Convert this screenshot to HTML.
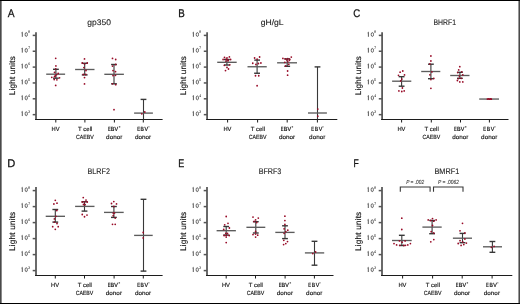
<!DOCTYPE html><html><head><meta charset="utf-8"><style>html,body{margin:0;padding:0;background:#fff;width:520px;height:304px;overflow:hidden}svg{display:block;will-change:transform}text{font-family:"Liberation Sans",sans-serif;text-rendering:geometricPrecision;stroke:#333;stroke-width:0.18px}text.b{stroke-width:0.25px;stroke:#111}text.t{stroke-width:0.08px}text.lu{stroke-width:0.16px;stroke:#111}text.ti{stroke-width:0.12px;stroke:#222}text.xl{stroke-width:0.14px;stroke:#111}text.pv{stroke-width:0.08px}text.xe{stroke-width:0.2px;stroke:#111}</style></head><body>
<svg width="520" height="304" viewBox="0 0 520 304">
<rect x="0" y="0" width="520" height="304" fill="#fff"/>
<text x="7.73" y="16.80" font-size="11.2" fill="#111" textLength="6.84" lengthAdjust="spacingAndGlyphs" class="b">A</text>
<text x="87.39" y="25.10" font-size="8.1" fill="#1e1e1e" textLength="23.59" lengthAdjust="spacingAndGlyphs" class="ti">gp350</text>
<g transform="translate(14.5 75.5) rotate(-90)"><text x="-19.77" y="0.00" font-size="8.2" fill="#111" textLength="39.16" lengthAdjust="spacing" class="lu">Light units</text></g>
<line x1="36" y1="32.35" x2="36" y2="120.1" stroke="#5a5a5a" stroke-width="1.8"/>
<line x1="35.1" y1="119.5" x2="162.6" y2="119.5" stroke="#1c1c1c" stroke-width="1.1"/>
<line x1="32.7" y1="35.4" x2="36" y2="35.4" stroke="#555" stroke-width="1.5"/>
<path d="M21.6 32.8 L22.3 32.2 M22.3 32.2 V36.8" fill="none" stroke="#3c3c3c" stroke-width="0.85"/>
<ellipse cx="26.25" cy="34.5" rx="1.15" ry="1.95" fill="none" stroke="#3a3a3a" stroke-width="0.75"/>
<text x="28.22" y="33.40" font-size="3.9" fill="#333" textLength="1.66" lengthAdjust="spacingAndGlyphs" class="t">8</text>
<line x1="32.7" y1="51.25" x2="36" y2="51.25" stroke="#555" stroke-width="1.5"/>
<path d="M21.6 48.65 L22.3 48.05 M22.3 48.05 V52.65" fill="none" stroke="#3c3c3c" stroke-width="0.85"/>
<ellipse cx="26.25" cy="50.35" rx="1.15" ry="1.95" fill="none" stroke="#3a3a3a" stroke-width="0.75"/>
<text x="28.19" y="49.25" font-size="3.9" fill="#333" textLength="1.71" lengthAdjust="spacingAndGlyphs" class="t">7</text>
<line x1="32.7" y1="67.1" x2="36" y2="67.1" stroke="#555" stroke-width="1.5"/>
<path d="M21.6 64.5 L22.3 63.9 M22.3 63.9 V68.5" fill="none" stroke="#3c3c3c" stroke-width="0.85"/>
<ellipse cx="26.25" cy="66.2" rx="1.15" ry="1.95" fill="none" stroke="#3a3a3a" stroke-width="0.75"/>
<text x="28.20" y="65.10" font-size="3.9" fill="#333" textLength="1.69" lengthAdjust="spacingAndGlyphs" class="t">6</text>
<line x1="32.7" y1="82.95" x2="36" y2="82.95" stroke="#555" stroke-width="1.5"/>
<path d="M21.6 80.35 L22.3 79.75 M22.3 79.75 V84.35" fill="none" stroke="#3c3c3c" stroke-width="0.85"/>
<ellipse cx="26.25" cy="82.05" rx="1.15" ry="1.95" fill="none" stroke="#3a3a3a" stroke-width="0.75"/>
<text x="28.23" y="80.95" font-size="3.9" fill="#333" textLength="1.64" lengthAdjust="spacingAndGlyphs" class="t">5</text>
<line x1="32.7" y1="98.8" x2="36" y2="98.8" stroke="#555" stroke-width="1.5"/>
<path d="M21.6 96.2 L22.3 95.6 M22.3 95.6 V100.2" fill="none" stroke="#3c3c3c" stroke-width="0.85"/>
<ellipse cx="26.25" cy="97.9" rx="1.15" ry="1.95" fill="none" stroke="#3a3a3a" stroke-width="0.75"/>
<text x="28.29" y="96.80" font-size="3.9" fill="#333" textLength="1.54" lengthAdjust="spacingAndGlyphs" class="t">4</text>
<line x1="32.7" y1="114.65" x2="36" y2="114.65" stroke="#555" stroke-width="1.5"/>
<path d="M21.6 112.05 L22.3 111.45 M22.3 111.45 V116.05" fill="none" stroke="#3c3c3c" stroke-width="0.85"/>
<ellipse cx="26.25" cy="113.75" rx="1.15" ry="1.95" fill="none" stroke="#3a3a3a" stroke-width="0.75"/>
<text x="28.24" y="112.65" font-size="3.9" fill="#333" textLength="1.64" lengthAdjust="spacingAndGlyphs" class="t">3</text>
<line x1="55.8" y1="119.5" x2="55.8" y2="122.5" stroke="#1c1c1c" stroke-width="1.0"/>
<text x="51.58" y="130.75" font-size="6.0" fill="#111" textLength="8.00" lengthAdjust="spacingAndGlyphs" class="xl">HV</text>
<line x1="84.9" y1="119.5" x2="84.9" y2="122.5" stroke="#1c1c1c" stroke-width="1.0"/>
<text x="78.12" y="130.75" font-size="6.0" fill="#111" textLength="14.23" lengthAdjust="spacingAndGlyphs" class="xl">T cell</text>
<text x="76.03" y="138.80" font-size="6.0" fill="#111" textLength="17.69" lengthAdjust="spacingAndGlyphs" class="xl">CAEBV</text>
<line x1="114.4" y1="119.5" x2="114.4" y2="122.5" stroke="#1c1c1c" stroke-width="1.0"/>
<text x="107.97" y="130.75" font-size="6.0" fill="#111" textLength="2.71" lengthAdjust="spacingAndGlyphs" class="xe">E</text>
<text x="110.85" y="130.75" font-size="6.0" fill="#111" textLength="3.64" lengthAdjust="spacingAndGlyphs" class="xe">B</text>
<text x="114.62" y="130.75" font-size="6.0" fill="#111" textLength="3.60" lengthAdjust="spacingAndGlyphs" class="xe">V</text>
<text x="106.13" y="138.80" font-size="6.0" fill="#111" textLength="16.17" lengthAdjust="spacingAndGlyphs" class="xl">donor</text>
<line x1="118.85" y1="126.85" x2="120.35" y2="126.85" stroke="#444" stroke-width="0.65"/>
<line x1="119.6" y1="126.1" x2="119.6" y2="127.6" stroke="#444" stroke-width="0.65"/>
<line x1="143.3" y1="119.5" x2="143.3" y2="122.5" stroke="#1c1c1c" stroke-width="1.0"/>
<text x="137.26" y="130.75" font-size="6.0" fill="#111" textLength="2.77" lengthAdjust="spacingAndGlyphs" class="xe">E</text>
<text x="140.58" y="130.75" font-size="6.0" fill="#111" textLength="3.39" lengthAdjust="spacingAndGlyphs" class="xe">B</text>
<text x="144.57" y="130.75" font-size="6.0" fill="#111" textLength="3.55" lengthAdjust="spacingAndGlyphs" class="xe">V</text>
<text x="135.03" y="138.80" font-size="6.0" fill="#111" textLength="16.17" lengthAdjust="spacingAndGlyphs" class="xl">donor</text>
<line x1="148.15" y1="126.85" x2="149.65" y2="126.85" stroke="#444" stroke-width="0.65"/>
<line x1="55.9" y1="69.3" x2="55.9" y2="78.2" stroke="#383838" stroke-width="1.1"/>
<line x1="53" y1="69.3" x2="58.8" y2="69.3" stroke="#383838" stroke-width="1.4"/>
<line x1="53" y1="78.2" x2="58.8" y2="78.2" stroke="#383838" stroke-width="1.4"/>
<line x1="46.2" y1="74.2" x2="65.1" y2="74.2" stroke="#5c5c5c" stroke-width="1.35"/>
<circle cx="55.7" cy="58.3" r="0.88" fill="#980b27"/>
<circle cx="55.9" cy="65.9" r="0.88" fill="#980b27"/>
<circle cx="55.7" cy="68.8" r="0.88" fill="#980b27"/>
<circle cx="54.55" cy="72.4" r="0.88" fill="#980b27"/>
<circle cx="58.2" cy="73.4" r="0.88" fill="#980b27"/>
<circle cx="56.5" cy="74.7" r="0.88" fill="#980b27"/>
<circle cx="54.55" cy="76.5" r="0.88" fill="#980b27"/>
<circle cx="51.8" cy="77.3" r="0.88" fill="#980b27"/>
<circle cx="59.5" cy="77.8" r="0.88" fill="#980b27"/>
<circle cx="54.2" cy="79.5" r="0.88" fill="#980b27"/>
<circle cx="56.9" cy="79.8" r="0.88" fill="#980b27"/>
<circle cx="55.7" cy="85.4" r="0.88" fill="#980b27"/>
<circle cx="55.4" cy="75.9" r="0.88" fill="#980b27"/>
<line x1="84.7" y1="63.25" x2="84.7" y2="74.9" stroke="#383838" stroke-width="1.1"/>
<line x1="81.8" y1="63.25" x2="87.6" y2="63.25" stroke="#383838" stroke-width="1.4"/>
<line x1="81.8" y1="74.9" x2="87.6" y2="74.9" stroke="#383838" stroke-width="1.4"/>
<line x1="75.1" y1="69.5" x2="94.5" y2="69.5" stroke="#5c5c5c" stroke-width="1.35"/>
<circle cx="84.5" cy="58.9" r="0.88" fill="#980b27"/>
<circle cx="82.25" cy="63" r="0.88" fill="#980b27"/>
<circle cx="87.25" cy="63" r="0.88" fill="#980b27"/>
<circle cx="84.5" cy="63.9" r="0.88" fill="#980b27"/>
<circle cx="83.9" cy="67.6" r="0.88" fill="#980b27"/>
<circle cx="86" cy="70.5" r="0.88" fill="#980b27"/>
<circle cx="83.25" cy="74.5" r="0.88" fill="#980b27"/>
<circle cx="85.75" cy="74.5" r="0.88" fill="#980b27"/>
<circle cx="84.5" cy="77.6" r="0.88" fill="#980b27"/>
<circle cx="84.5" cy="83.9" r="0.88" fill="#980b27"/>
<line x1="114" y1="64.5" x2="114" y2="83.8" stroke="#383838" stroke-width="1.1"/>
<line x1="111.1" y1="64.5" x2="116.9" y2="64.5" stroke="#383838" stroke-width="1.4"/>
<line x1="111.1" y1="83.8" x2="116.9" y2="83.8" stroke="#383838" stroke-width="1.4"/>
<line x1="104.3" y1="74.3" x2="123.9" y2="74.3" stroke="#5c5c5c" stroke-width="1.35"/>
<circle cx="112.5" cy="58.4" r="0.88" fill="#980b27"/>
<circle cx="115.7" cy="59.5" r="0.88" fill="#980b27"/>
<circle cx="115.7" cy="64.5" r="0.88" fill="#980b27"/>
<circle cx="112.5" cy="66.1" r="0.88" fill="#980b27"/>
<circle cx="113" cy="70.6" r="0.88" fill="#980b27"/>
<circle cx="115.5" cy="71.7" r="0.88" fill="#980b27"/>
<circle cx="113" cy="75.6" r="0.88" fill="#980b27"/>
<circle cx="115.5" cy="75.3" r="0.88" fill="#980b27"/>
<circle cx="112.5" cy="83.8" r="0.88" fill="#980b27"/>
<circle cx="115.7" cy="84.7" r="0.88" fill="#980b27"/>
<circle cx="114" cy="109.7" r="0.88" fill="#980b27"/>
<line x1="143.5" y1="99.4" x2="143.5" y2="119.5" stroke="#383838" stroke-width="1.1"/>
<line x1="140.6" y1="99.4" x2="146.4" y2="99.4" stroke="#383838" stroke-width="1.4"/>
<line x1="134.1" y1="113.1" x2="152.9" y2="113.1" stroke="#5c5c5c" stroke-width="1.35"/>
<circle cx="144.8" cy="112" r="0.88" fill="#980b27"/>
<circle cx="141.8" cy="113.8" r="0.88" fill="#980b27"/>
<text x="178.35" y="16.80" font-size="11.2" fill="#111" textLength="6.52" lengthAdjust="spacingAndGlyphs" class="b">B</text>
<text x="260.79" y="24.70" font-size="8.1" fill="#1e1e1e" textLength="22.85" lengthAdjust="spacingAndGlyphs" class="ti">gH/gL</text>
<g transform="translate(185.6 75.5) rotate(-90)"><text x="-19.77" y="0.00" font-size="8.2" fill="#111" textLength="39.16" lengthAdjust="spacing" class="lu">Light units</text></g>
<line x1="207.1" y1="32.35" x2="207.1" y2="120.1" stroke="#5a5a5a" stroke-width="1.8"/>
<line x1="206.2" y1="119.5" x2="337.3" y2="119.5" stroke="#1c1c1c" stroke-width="1.1"/>
<line x1="203.8" y1="35.4" x2="207.1" y2="35.4" stroke="#555" stroke-width="1.5"/>
<path d="M192.7 32.8 L193.4 32.2 M193.4 32.2 V36.8" fill="none" stroke="#3c3c3c" stroke-width="0.85"/>
<ellipse cx="197.35" cy="34.5" rx="1.15" ry="1.95" fill="none" stroke="#3a3a3a" stroke-width="0.75"/>
<text x="199.32" y="33.40" font-size="3.9" fill="#333" textLength="1.66" lengthAdjust="spacingAndGlyphs" class="t">8</text>
<line x1="203.8" y1="51.25" x2="207.1" y2="51.25" stroke="#555" stroke-width="1.5"/>
<path d="M192.7 48.65 L193.4 48.05 M193.4 48.05 V52.65" fill="none" stroke="#3c3c3c" stroke-width="0.85"/>
<ellipse cx="197.35" cy="50.35" rx="1.15" ry="1.95" fill="none" stroke="#3a3a3a" stroke-width="0.75"/>
<text x="199.29" y="49.25" font-size="3.9" fill="#333" textLength="1.71" lengthAdjust="spacingAndGlyphs" class="t">7</text>
<line x1="203.8" y1="67.1" x2="207.1" y2="67.1" stroke="#555" stroke-width="1.5"/>
<path d="M192.7 64.5 L193.4 63.9 M193.4 63.9 V68.5" fill="none" stroke="#3c3c3c" stroke-width="0.85"/>
<ellipse cx="197.35" cy="66.2" rx="1.15" ry="1.95" fill="none" stroke="#3a3a3a" stroke-width="0.75"/>
<text x="199.30" y="65.10" font-size="3.9" fill="#333" textLength="1.69" lengthAdjust="spacingAndGlyphs" class="t">6</text>
<line x1="203.8" y1="82.95" x2="207.1" y2="82.95" stroke="#555" stroke-width="1.5"/>
<path d="M192.7 80.35 L193.4 79.75 M193.4 79.75 V84.35" fill="none" stroke="#3c3c3c" stroke-width="0.85"/>
<ellipse cx="197.35" cy="82.05" rx="1.15" ry="1.95" fill="none" stroke="#3a3a3a" stroke-width="0.75"/>
<text x="199.33" y="80.95" font-size="3.9" fill="#333" textLength="1.64" lengthAdjust="spacingAndGlyphs" class="t">5</text>
<line x1="203.8" y1="98.8" x2="207.1" y2="98.8" stroke="#555" stroke-width="1.5"/>
<path d="M192.7 96.2 L193.4 95.6 M193.4 95.6 V100.2" fill="none" stroke="#3c3c3c" stroke-width="0.85"/>
<ellipse cx="197.35" cy="97.9" rx="1.15" ry="1.95" fill="none" stroke="#3a3a3a" stroke-width="0.75"/>
<text x="199.39" y="96.80" font-size="3.9" fill="#333" textLength="1.54" lengthAdjust="spacingAndGlyphs" class="t">4</text>
<line x1="203.8" y1="114.65" x2="207.1" y2="114.65" stroke="#555" stroke-width="1.5"/>
<path d="M192.7 112.05 L193.4 111.45 M193.4 111.45 V116.05" fill="none" stroke="#3c3c3c" stroke-width="0.85"/>
<ellipse cx="197.35" cy="113.75" rx="1.15" ry="1.95" fill="none" stroke="#3a3a3a" stroke-width="0.75"/>
<text x="199.34" y="112.65" font-size="3.9" fill="#333" textLength="1.64" lengthAdjust="spacingAndGlyphs" class="t">3</text>
<line x1="227.6" y1="119.5" x2="227.6" y2="122.5" stroke="#1c1c1c" stroke-width="1.0"/>
<text x="223.38" y="130.75" font-size="6.0" fill="#111" textLength="8.00" lengthAdjust="spacingAndGlyphs" class="xl">HV</text>
<line x1="257.6" y1="119.5" x2="257.6" y2="122.5" stroke="#1c1c1c" stroke-width="1.0"/>
<text x="250.82" y="130.75" font-size="6.0" fill="#111" textLength="14.23" lengthAdjust="spacingAndGlyphs" class="xl">T cell</text>
<text x="248.73" y="138.80" font-size="6.0" fill="#111" textLength="17.69" lengthAdjust="spacingAndGlyphs" class="xl">CAEBV</text>
<line x1="287.2" y1="119.5" x2="287.2" y2="122.5" stroke="#1c1c1c" stroke-width="1.0"/>
<text x="280.77" y="130.75" font-size="6.0" fill="#111" textLength="2.71" lengthAdjust="spacingAndGlyphs" class="xe">E</text>
<text x="283.65" y="130.75" font-size="6.0" fill="#111" textLength="3.64" lengthAdjust="spacingAndGlyphs" class="xe">B</text>
<text x="287.42" y="130.75" font-size="6.0" fill="#111" textLength="3.60" lengthAdjust="spacingAndGlyphs" class="xe">V</text>
<text x="278.93" y="138.80" font-size="6.0" fill="#111" textLength="16.17" lengthAdjust="spacingAndGlyphs" class="xl">donor</text>
<line x1="291.65" y1="126.85" x2="293.15" y2="126.85" stroke="#444" stroke-width="0.65"/>
<line x1="292.4" y1="126.1" x2="292.4" y2="127.6" stroke="#444" stroke-width="0.65"/>
<line x1="317.4" y1="119.5" x2="317.4" y2="122.5" stroke="#1c1c1c" stroke-width="1.0"/>
<text x="311.36" y="130.75" font-size="6.0" fill="#111" textLength="2.77" lengthAdjust="spacingAndGlyphs" class="xe">E</text>
<text x="314.68" y="130.75" font-size="6.0" fill="#111" textLength="3.39" lengthAdjust="spacingAndGlyphs" class="xe">B</text>
<text x="318.67" y="130.75" font-size="6.0" fill="#111" textLength="3.55" lengthAdjust="spacingAndGlyphs" class="xe">V</text>
<text x="309.13" y="138.80" font-size="6.0" fill="#111" textLength="16.17" lengthAdjust="spacingAndGlyphs" class="xl">donor</text>
<line x1="322.25" y1="126.85" x2="323.75" y2="126.85" stroke="#444" stroke-width="0.65"/>
<line x1="226.9" y1="59.5" x2="226.9" y2="65" stroke="#383838" stroke-width="1.1"/>
<line x1="224" y1="59.5" x2="229.8" y2="59.5" stroke="#383838" stroke-width="1.4"/>
<line x1="224" y1="65" x2="229.8" y2="65" stroke="#383838" stroke-width="1.4"/>
<line x1="217.2" y1="62.3" x2="236.7" y2="62.3" stroke="#5c5c5c" stroke-width="1.35"/>
<circle cx="224.5" cy="57.4" r="0.88" fill="#980b27"/>
<circle cx="227" cy="57.9" r="0.88" fill="#980b27"/>
<circle cx="229.4" cy="56.9" r="0.88" fill="#980b27"/>
<circle cx="223.1" cy="59.5" r="0.88" fill="#980b27"/>
<circle cx="226.3" cy="59.1" r="0.88" fill="#980b27"/>
<circle cx="227.8" cy="59.9" r="0.88" fill="#980b27"/>
<circle cx="230.6" cy="59.5" r="0.88" fill="#980b27"/>
<circle cx="225.9" cy="61.1" r="0.88" fill="#980b27"/>
<circle cx="228.2" cy="60.7" r="0.88" fill="#980b27"/>
<circle cx="224.3" cy="65.3" r="0.88" fill="#980b27"/>
<circle cx="229.8" cy="64.8" r="0.88" fill="#980b27"/>
<circle cx="227" cy="67.4" r="0.88" fill="#980b27"/>
<circle cx="228.5" cy="69" r="0.88" fill="#980b27"/>
<circle cx="225.5" cy="70.6" r="0.88" fill="#980b27"/>
<line x1="257.1" y1="60.1" x2="257.1" y2="73.25" stroke="#383838" stroke-width="1.1"/>
<line x1="254.2" y1="60.1" x2="260" y2="60.1" stroke="#383838" stroke-width="1.4"/>
<line x1="254.2" y1="73.25" x2="260" y2="73.25" stroke="#383838" stroke-width="1.4"/>
<line x1="247.5" y1="66.75" x2="266.75" y2="66.75" stroke="#5c5c5c" stroke-width="1.35"/>
<circle cx="254.6" cy="58" r="0.88" fill="#980b27"/>
<circle cx="259.6" cy="57" r="0.88" fill="#980b27"/>
<circle cx="257.1" cy="59.25" r="0.88" fill="#980b27"/>
<circle cx="252.75" cy="63.25" r="0.88" fill="#980b27"/>
<circle cx="255.9" cy="64.5" r="0.88" fill="#980b27"/>
<circle cx="258.4" cy="63.5" r="0.88" fill="#980b27"/>
<circle cx="260.9" cy="63" r="0.88" fill="#980b27"/>
<circle cx="255.5" cy="75.75" r="0.88" fill="#980b27"/>
<circle cx="258.75" cy="75.75" r="0.88" fill="#980b27"/>
<circle cx="257.1" cy="85.75" r="0.88" fill="#980b27"/>
<line x1="287.2" y1="58.9" x2="287.2" y2="66.3" stroke="#383838" stroke-width="1.1"/>
<line x1="284.3" y1="58.9" x2="290.1" y2="58.9" stroke="#383838" stroke-width="1.4"/>
<line x1="284.3" y1="66.3" x2="290.1" y2="66.3" stroke="#383838" stroke-width="1.4"/>
<line x1="277.1" y1="62.8" x2="297" y2="62.8" stroke="#5c5c5c" stroke-width="1.35"/>
<circle cx="282.9" cy="58.4" r="0.88" fill="#980b27"/>
<circle cx="285.3" cy="58.9" r="0.88" fill="#980b27"/>
<circle cx="287.8" cy="58.7" r="0.88" fill="#980b27"/>
<circle cx="291.3" cy="57.1" r="0.88" fill="#980b27"/>
<circle cx="289.8" cy="59.4" r="0.88" fill="#980b27"/>
<circle cx="286.8" cy="59.9" r="0.88" fill="#980b27"/>
<circle cx="289.3" cy="60.4" r="0.88" fill="#980b27"/>
<circle cx="284.8" cy="62.3" r="0.88" fill="#980b27"/>
<circle cx="287.8" cy="61.8" r="0.88" fill="#980b27"/>
<circle cx="288.8" cy="64.3" r="0.88" fill="#980b27"/>
<circle cx="285.8" cy="66" r="0.88" fill="#980b27"/>
<circle cx="287.6" cy="71" r="0.88" fill="#980b27"/>
<circle cx="287.6" cy="75.2" r="0.88" fill="#980b27"/>
<line x1="317.5" y1="66.9" x2="317.5" y2="119.5" stroke="#383838" stroke-width="1.1"/>
<line x1="314.6" y1="66.9" x2="320.4" y2="66.9" stroke="#383838" stroke-width="1.4"/>
<line x1="308" y1="113" x2="326.9" y2="113" stroke="#5c5c5c" stroke-width="1.35"/>
<circle cx="317.8" cy="109.1" r="0.88" fill="#980b27"/>
<circle cx="317.8" cy="116.2" r="0.88" fill="#980b27"/>
<text x="353.36" y="16.80" font-size="11.2" fill="#111" textLength="6.96" lengthAdjust="spacingAndGlyphs" class="b">C</text>
<text x="433.49" y="24.60" font-size="8.1" fill="#1e1e1e" textLength="22.50" lengthAdjust="spacingAndGlyphs" class="ti">BHRF1</text>
<g transform="translate(360.6 75.5) rotate(-90)"><text x="-19.77" y="0.00" font-size="8.2" fill="#111" textLength="39.16" lengthAdjust="spacing" class="lu">Light units</text></g>
<line x1="382.1" y1="32.35" x2="382.1" y2="120.1" stroke="#5a5a5a" stroke-width="1.8"/>
<line x1="381.2" y1="119.5" x2="508.5" y2="119.5" stroke="#1c1c1c" stroke-width="1.1"/>
<line x1="378.8" y1="35.4" x2="382.1" y2="35.4" stroke="#555" stroke-width="1.5"/>
<path d="M367.7 32.8 L368.4 32.2 M368.4 32.2 V36.8" fill="none" stroke="#3c3c3c" stroke-width="0.85"/>
<ellipse cx="372.35" cy="34.5" rx="1.15" ry="1.95" fill="none" stroke="#3a3a3a" stroke-width="0.75"/>
<text x="374.32" y="33.40" font-size="3.9" fill="#333" textLength="1.66" lengthAdjust="spacingAndGlyphs" class="t">8</text>
<line x1="378.8" y1="51.25" x2="382.1" y2="51.25" stroke="#555" stroke-width="1.5"/>
<path d="M367.7 48.65 L368.4 48.05 M368.4 48.05 V52.65" fill="none" stroke="#3c3c3c" stroke-width="0.85"/>
<ellipse cx="372.35" cy="50.35" rx="1.15" ry="1.95" fill="none" stroke="#3a3a3a" stroke-width="0.75"/>
<text x="374.29" y="49.25" font-size="3.9" fill="#333" textLength="1.71" lengthAdjust="spacingAndGlyphs" class="t">7</text>
<line x1="378.8" y1="67.1" x2="382.1" y2="67.1" stroke="#555" stroke-width="1.5"/>
<path d="M367.7 64.5 L368.4 63.9 M368.4 63.9 V68.5" fill="none" stroke="#3c3c3c" stroke-width="0.85"/>
<ellipse cx="372.35" cy="66.2" rx="1.15" ry="1.95" fill="none" stroke="#3a3a3a" stroke-width="0.75"/>
<text x="374.30" y="65.10" font-size="3.9" fill="#333" textLength="1.69" lengthAdjust="spacingAndGlyphs" class="t">6</text>
<line x1="378.8" y1="82.95" x2="382.1" y2="82.95" stroke="#555" stroke-width="1.5"/>
<path d="M367.7 80.35 L368.4 79.75 M368.4 79.75 V84.35" fill="none" stroke="#3c3c3c" stroke-width="0.85"/>
<ellipse cx="372.35" cy="82.05" rx="1.15" ry="1.95" fill="none" stroke="#3a3a3a" stroke-width="0.75"/>
<text x="374.33" y="80.95" font-size="3.9" fill="#333" textLength="1.64" lengthAdjust="spacingAndGlyphs" class="t">5</text>
<line x1="378.8" y1="98.8" x2="382.1" y2="98.8" stroke="#555" stroke-width="1.5"/>
<path d="M367.7 96.2 L368.4 95.6 M368.4 95.6 V100.2" fill="none" stroke="#3c3c3c" stroke-width="0.85"/>
<ellipse cx="372.35" cy="97.9" rx="1.15" ry="1.95" fill="none" stroke="#3a3a3a" stroke-width="0.75"/>
<text x="374.39" y="96.80" font-size="3.9" fill="#333" textLength="1.54" lengthAdjust="spacingAndGlyphs" class="t">4</text>
<line x1="378.8" y1="114.65" x2="382.1" y2="114.65" stroke="#555" stroke-width="1.5"/>
<path d="M367.7 112.05 L368.4 111.45 M368.4 111.45 V116.05" fill="none" stroke="#3c3c3c" stroke-width="0.85"/>
<ellipse cx="372.35" cy="113.75" rx="1.15" ry="1.95" fill="none" stroke="#3a3a3a" stroke-width="0.75"/>
<text x="374.34" y="112.65" font-size="3.9" fill="#333" textLength="1.64" lengthAdjust="spacingAndGlyphs" class="t">3</text>
<line x1="401.6" y1="119.5" x2="401.6" y2="122.5" stroke="#1c1c1c" stroke-width="1.0"/>
<text x="397.38" y="130.75" font-size="6.0" fill="#111" textLength="8.00" lengthAdjust="spacingAndGlyphs" class="xl">HV</text>
<line x1="431.3" y1="119.5" x2="431.3" y2="122.5" stroke="#1c1c1c" stroke-width="1.0"/>
<text x="424.52" y="130.75" font-size="6.0" fill="#111" textLength="14.23" lengthAdjust="spacingAndGlyphs" class="xl">T cell</text>
<text x="422.43" y="138.80" font-size="6.0" fill="#111" textLength="17.69" lengthAdjust="spacingAndGlyphs" class="xl">CAEBV</text>
<line x1="460.5" y1="119.5" x2="460.5" y2="122.5" stroke="#1c1c1c" stroke-width="1.0"/>
<text x="454.07" y="130.75" font-size="6.0" fill="#111" textLength="2.71" lengthAdjust="spacingAndGlyphs" class="xe">E</text>
<text x="456.95" y="130.75" font-size="6.0" fill="#111" textLength="3.64" lengthAdjust="spacingAndGlyphs" class="xe">B</text>
<text x="460.72" y="130.75" font-size="6.0" fill="#111" textLength="3.60" lengthAdjust="spacingAndGlyphs" class="xe">V</text>
<text x="452.23" y="138.80" font-size="6.0" fill="#111" textLength="16.17" lengthAdjust="spacingAndGlyphs" class="xl">donor</text>
<line x1="464.95" y1="126.85" x2="466.45" y2="126.85" stroke="#444" stroke-width="0.65"/>
<line x1="465.7" y1="126.1" x2="465.7" y2="127.6" stroke="#444" stroke-width="0.65"/>
<line x1="489.4" y1="119.5" x2="489.4" y2="122.5" stroke="#1c1c1c" stroke-width="1.0"/>
<text x="483.36" y="130.75" font-size="6.0" fill="#111" textLength="2.77" lengthAdjust="spacingAndGlyphs" class="xe">E</text>
<text x="486.68" y="130.75" font-size="6.0" fill="#111" textLength="3.39" lengthAdjust="spacingAndGlyphs" class="xe">B</text>
<text x="490.67" y="130.75" font-size="6.0" fill="#111" textLength="3.55" lengthAdjust="spacingAndGlyphs" class="xe">V</text>
<text x="481.13" y="138.80" font-size="6.0" fill="#111" textLength="16.17" lengthAdjust="spacingAndGlyphs" class="xl">donor</text>
<line x1="494.25" y1="126.85" x2="495.75" y2="126.85" stroke="#444" stroke-width="0.65"/>
<line x1="401.6" y1="76.7" x2="401.6" y2="86.2" stroke="#383838" stroke-width="1.1"/>
<line x1="398.7" y1="76.7" x2="404.5" y2="76.7" stroke="#383838" stroke-width="1.4"/>
<line x1="398.7" y1="86.2" x2="404.5" y2="86.2" stroke="#383838" stroke-width="1.4"/>
<line x1="392.1" y1="81.2" x2="411.3" y2="81.2" stroke="#5c5c5c" stroke-width="1.35"/>
<circle cx="400.1" cy="72.2" r="0.88" fill="#980b27"/>
<circle cx="402.8" cy="71" r="0.88" fill="#980b27"/>
<circle cx="398.5" cy="75.3" r="0.88" fill="#980b27"/>
<circle cx="404.5" cy="74.9" r="0.88" fill="#980b27"/>
<circle cx="401.8" cy="79.1" r="0.88" fill="#980b27"/>
<circle cx="400.7" cy="80.9" r="0.88" fill="#980b27"/>
<circle cx="402.4" cy="88" r="0.88" fill="#980b27"/>
<circle cx="398.9" cy="90.9" r="0.88" fill="#980b27"/>
<circle cx="401.8" cy="91.5" r="0.88" fill="#980b27"/>
<circle cx="404.2" cy="90.9" r="0.88" fill="#980b27"/>
<line x1="430.9" y1="64.2" x2="430.9" y2="78.7" stroke="#383838" stroke-width="1.1"/>
<line x1="428" y1="64.2" x2="433.8" y2="64.2" stroke="#383838" stroke-width="1.4"/>
<line x1="428" y1="78.7" x2="433.8" y2="78.7" stroke="#383838" stroke-width="1.4"/>
<line x1="421.2" y1="71.5" x2="440.3" y2="71.5" stroke="#5c5c5c" stroke-width="1.35"/>
<circle cx="430.9" cy="56" r="0.88" fill="#980b27"/>
<circle cx="430.9" cy="61" r="0.88" fill="#980b27"/>
<circle cx="429.9" cy="64" r="0.88" fill="#980b27"/>
<circle cx="431.9" cy="71.9" r="0.88" fill="#980b27"/>
<circle cx="429.9" cy="74.8" r="0.88" fill="#980b27"/>
<circle cx="430.9" cy="79.6" r="0.88" fill="#980b27"/>
<circle cx="433.8" cy="78.4" r="0.88" fill="#980b27"/>
<circle cx="430.9" cy="88.3" r="0.88" fill="#980b27"/>
<line x1="459.9" y1="72.3" x2="459.9" y2="78.3" stroke="#383838" stroke-width="1.1"/>
<line x1="457" y1="72.3" x2="462.8" y2="72.3" stroke="#383838" stroke-width="1.4"/>
<line x1="457" y1="78.3" x2="462.8" y2="78.3" stroke="#383838" stroke-width="1.4"/>
<line x1="450.2" y1="75.5" x2="469.5" y2="75.5" stroke="#5c5c5c" stroke-width="1.35"/>
<circle cx="459.8" cy="66.7" r="0.88" fill="#980b27"/>
<circle cx="458.7" cy="69.9" r="0.88" fill="#980b27"/>
<circle cx="457.7" cy="72.6" r="0.88" fill="#980b27"/>
<circle cx="461.8" cy="71.8" r="0.88" fill="#980b27"/>
<circle cx="462.8" cy="74.8" r="0.88" fill="#980b27"/>
<circle cx="459.4" cy="76.1" r="0.88" fill="#980b27"/>
<circle cx="458.4" cy="78.6" r="0.88" fill="#980b27"/>
<circle cx="461.3" cy="78.3" r="0.88" fill="#980b27"/>
<circle cx="457.4" cy="80.5" r="0.88" fill="#980b27"/>
<circle cx="459.8" cy="81.9" r="0.88" fill="#980b27"/>
<circle cx="462.8" cy="81.9" r="0.88" fill="#980b27"/>
<line x1="479.2" y1="99.05" x2="499" y2="99.05" stroke="#5c5c5c" stroke-width="1.35"/>
<circle cx="487.4" cy="99.1" r="0.88" fill="#980b27"/>
<circle cx="488.5" cy="98.9" r="0.88" fill="#980b27"/>
<circle cx="489.6" cy="99.2" r="0.88" fill="#980b27"/>
<circle cx="490.7" cy="98.9" r="0.88" fill="#980b27"/>
<circle cx="491.3" cy="99.2" r="0.88" fill="#980b27"/>
<text x="7.24" y="166.70" font-size="11.2" fill="#111" textLength="8.05" lengthAdjust="spacingAndGlyphs" class="b">D</text>
<text x="87.56" y="173.80" font-size="8.1" fill="#1e1e1e" textLength="22.35" lengthAdjust="spacingAndGlyphs" class="ti">BLRF2</text>
<g transform="translate(14.5 231.2) rotate(-90)"><text x="-19.77" y="0.00" font-size="8.2" fill="#111" textLength="39.16" lengthAdjust="spacing" class="lu">Light units</text></g>
<line x1="36" y1="187" x2="36" y2="276.1" stroke="#5a5a5a" stroke-width="1.8"/>
<line x1="35.1" y1="275.5" x2="162.6" y2="275.5" stroke="#1c1c1c" stroke-width="1.1"/>
<line x1="32.7" y1="190.6" x2="36" y2="190.6" stroke="#555" stroke-width="1.5"/>
<path d="M21.6 188 L22.3 187.4 M22.3 187.4 V192" fill="none" stroke="#3c3c3c" stroke-width="0.85"/>
<ellipse cx="26.25" cy="189.7" rx="1.15" ry="1.95" fill="none" stroke="#3a3a3a" stroke-width="0.75"/>
<text x="28.22" y="188.60" font-size="3.9" fill="#333" textLength="1.66" lengthAdjust="spacingAndGlyphs" class="t">8</text>
<line x1="32.7" y1="206.6" x2="36" y2="206.6" stroke="#555" stroke-width="1.5"/>
<path d="M21.6 204 L22.3 203.4 M22.3 203.4 V208" fill="none" stroke="#3c3c3c" stroke-width="0.85"/>
<ellipse cx="26.25" cy="205.7" rx="1.15" ry="1.95" fill="none" stroke="#3a3a3a" stroke-width="0.75"/>
<text x="28.19" y="204.60" font-size="3.9" fill="#333" textLength="1.71" lengthAdjust="spacingAndGlyphs" class="t">7</text>
<line x1="32.7" y1="222.6" x2="36" y2="222.6" stroke="#555" stroke-width="1.5"/>
<path d="M21.6 220 L22.3 219.4 M22.3 219.4 V224" fill="none" stroke="#3c3c3c" stroke-width="0.85"/>
<ellipse cx="26.25" cy="221.7" rx="1.15" ry="1.95" fill="none" stroke="#3a3a3a" stroke-width="0.75"/>
<text x="28.20" y="220.60" font-size="3.9" fill="#333" textLength="1.69" lengthAdjust="spacingAndGlyphs" class="t">6</text>
<line x1="32.7" y1="238.6" x2="36" y2="238.6" stroke="#555" stroke-width="1.5"/>
<path d="M21.6 236 L22.3 235.4 M22.3 235.4 V240" fill="none" stroke="#3c3c3c" stroke-width="0.85"/>
<ellipse cx="26.25" cy="237.7" rx="1.15" ry="1.95" fill="none" stroke="#3a3a3a" stroke-width="0.75"/>
<text x="28.23" y="236.60" font-size="3.9" fill="#333" textLength="1.64" lengthAdjust="spacingAndGlyphs" class="t">5</text>
<line x1="32.7" y1="254.6" x2="36" y2="254.6" stroke="#555" stroke-width="1.5"/>
<path d="M21.6 252 L22.3 251.4 M22.3 251.4 V256" fill="none" stroke="#3c3c3c" stroke-width="0.85"/>
<ellipse cx="26.25" cy="253.7" rx="1.15" ry="1.95" fill="none" stroke="#3a3a3a" stroke-width="0.75"/>
<text x="28.29" y="252.60" font-size="3.9" fill="#333" textLength="1.54" lengthAdjust="spacingAndGlyphs" class="t">4</text>
<line x1="32.7" y1="270.6" x2="36" y2="270.6" stroke="#555" stroke-width="1.5"/>
<path d="M21.6 268 L22.3 267.4 M22.3 267.4 V272" fill="none" stroke="#3c3c3c" stroke-width="0.85"/>
<ellipse cx="26.25" cy="269.7" rx="1.15" ry="1.95" fill="none" stroke="#3a3a3a" stroke-width="0.75"/>
<text x="28.24" y="268.60" font-size="3.9" fill="#333" textLength="1.64" lengthAdjust="spacingAndGlyphs" class="t">3</text>
<line x1="55.3" y1="275.5" x2="55.3" y2="278.5" stroke="#1c1c1c" stroke-width="1.0"/>
<text x="51.08" y="286.75" font-size="6.0" fill="#111" textLength="8.00" lengthAdjust="spacingAndGlyphs" class="xl">HV</text>
<line x1="84.5" y1="275.5" x2="84.5" y2="278.5" stroke="#1c1c1c" stroke-width="1.0"/>
<text x="77.72" y="286.75" font-size="6.0" fill="#111" textLength="14.23" lengthAdjust="spacingAndGlyphs" class="xl">T cell</text>
<text x="75.63" y="294.80" font-size="6.0" fill="#111" textLength="17.69" lengthAdjust="spacingAndGlyphs" class="xl">CAEBV</text>
<line x1="114.1" y1="275.5" x2="114.1" y2="278.5" stroke="#1c1c1c" stroke-width="1.0"/>
<text x="107.67" y="286.75" font-size="6.0" fill="#111" textLength="2.71" lengthAdjust="spacingAndGlyphs" class="xe">E</text>
<text x="110.55" y="286.75" font-size="6.0" fill="#111" textLength="3.64" lengthAdjust="spacingAndGlyphs" class="xe">B</text>
<text x="114.32" y="286.75" font-size="6.0" fill="#111" textLength="3.60" lengthAdjust="spacingAndGlyphs" class="xe">V</text>
<text x="105.83" y="294.80" font-size="6.0" fill="#111" textLength="16.17" lengthAdjust="spacingAndGlyphs" class="xl">donor</text>
<line x1="118.55" y1="282.85" x2="120.05" y2="282.85" stroke="#444" stroke-width="0.65"/>
<line x1="119.3" y1="282.1" x2="119.3" y2="283.6" stroke="#444" stroke-width="0.65"/>
<line x1="143.3" y1="275.5" x2="143.3" y2="278.5" stroke="#1c1c1c" stroke-width="1.0"/>
<text x="137.26" y="286.75" font-size="6.0" fill="#111" textLength="2.77" lengthAdjust="spacingAndGlyphs" class="xe">E</text>
<text x="140.58" y="286.75" font-size="6.0" fill="#111" textLength="3.39" lengthAdjust="spacingAndGlyphs" class="xe">B</text>
<text x="144.57" y="286.75" font-size="6.0" fill="#111" textLength="3.55" lengthAdjust="spacingAndGlyphs" class="xe">V</text>
<text x="135.03" y="294.80" font-size="6.0" fill="#111" textLength="16.17" lengthAdjust="spacingAndGlyphs" class="xl">donor</text>
<line x1="148.15" y1="282.85" x2="149.65" y2="282.85" stroke="#444" stroke-width="0.65"/>
<line x1="55.3" y1="209.5" x2="55.3" y2="222.1" stroke="#383838" stroke-width="1.1"/>
<line x1="52.4" y1="209.5" x2="58.2" y2="209.5" stroke="#383838" stroke-width="1.4"/>
<line x1="52.4" y1="222.1" x2="58.2" y2="222.1" stroke="#383838" stroke-width="1.4"/>
<line x1="45.7" y1="216.3" x2="65" y2="216.3" stroke="#5c5c5c" stroke-width="1.35"/>
<circle cx="55.3" cy="200.3" r="0.88" fill="#980b27"/>
<circle cx="53.9" cy="204" r="0.88" fill="#980b27"/>
<circle cx="57" cy="203.2" r="0.88" fill="#980b27"/>
<circle cx="56.8" cy="210.5" r="0.88" fill="#980b27"/>
<circle cx="55.9" cy="216.3" r="0.88" fill="#980b27"/>
<circle cx="54.4" cy="218.9" r="0.88" fill="#980b27"/>
<circle cx="54.4" cy="222.1" r="0.88" fill="#980b27"/>
<circle cx="57" cy="223.5" r="0.88" fill="#980b27"/>
<circle cx="52.7" cy="226.7" r="0.88" fill="#980b27"/>
<circle cx="58.2" cy="226.7" r="0.88" fill="#980b27"/>
<circle cx="55.3" cy="229.3" r="0.88" fill="#980b27"/>
<line x1="84.5" y1="201.75" x2="84.5" y2="211.1" stroke="#383838" stroke-width="1.1"/>
<line x1="81.6" y1="201.75" x2="87.4" y2="201.75" stroke="#383838" stroke-width="1.4"/>
<line x1="81.6" y1="211.1" x2="87.4" y2="211.1" stroke="#383838" stroke-width="1.4"/>
<line x1="75.1" y1="206.4" x2="94.5" y2="206.4" stroke="#5c5c5c" stroke-width="1.35"/>
<circle cx="83.25" cy="197.6" r="0.88" fill="#980b27"/>
<circle cx="86" cy="200.1" r="0.88" fill="#980b27"/>
<circle cx="82.25" cy="202" r="0.88" fill="#980b27"/>
<circle cx="84.5" cy="202" r="0.88" fill="#980b27"/>
<circle cx="87.25" cy="202" r="0.88" fill="#980b27"/>
<circle cx="83.5" cy="204.5" r="0.88" fill="#980b27"/>
<circle cx="85.1" cy="204.7" r="0.88" fill="#980b27"/>
<circle cx="82.25" cy="214.5" r="0.88" fill="#980b27"/>
<circle cx="84.5" cy="216.75" r="0.88" fill="#980b27"/>
<circle cx="87" cy="215.1" r="0.88" fill="#980b27"/>
<line x1="113.9" y1="206.5" x2="113.9" y2="217.4" stroke="#383838" stroke-width="1.1"/>
<line x1="111" y1="206.5" x2="116.8" y2="206.5" stroke="#383838" stroke-width="1.4"/>
<line x1="111" y1="217.4" x2="116.8" y2="217.4" stroke="#383838" stroke-width="1.4"/>
<line x1="104" y1="212.4" x2="123.7" y2="212.4" stroke="#5c5c5c" stroke-width="1.35"/>
<circle cx="113.8" cy="201.6" r="0.88" fill="#980b27"/>
<circle cx="111.5" cy="203.5" r="0.88" fill="#980b27"/>
<circle cx="116.5" cy="203.9" r="0.88" fill="#980b27"/>
<circle cx="113.9" cy="206.5" r="0.88" fill="#980b27"/>
<circle cx="113.2" cy="213.1" r="0.88" fill="#980b27"/>
<circle cx="114.5" cy="213.1" r="0.88" fill="#980b27"/>
<circle cx="113.2" cy="215.7" r="0.88" fill="#980b27"/>
<circle cx="115.2" cy="218.1" r="0.88" fill="#980b27"/>
<circle cx="112.5" cy="224.3" r="0.88" fill="#980b27"/>
<circle cx="115.2" cy="224.3" r="0.88" fill="#980b27"/>
<line x1="143.5" y1="199.3" x2="143.5" y2="271.1" stroke="#383838" stroke-width="1.1"/>
<line x1="140.6" y1="199.3" x2="146.4" y2="199.3" stroke="#383838" stroke-width="1.4"/>
<line x1="140.6" y1="271.1" x2="146.4" y2="271.1" stroke="#383838" stroke-width="1.4"/>
<line x1="134.1" y1="235.4" x2="152.7" y2="235.4" stroke="#5c5c5c" stroke-width="1.35"/>
<circle cx="143.2" cy="232.5" r="0.88" fill="#980b27"/>
<circle cx="143.2" cy="237.9" r="0.88" fill="#980b27"/>
<text x="178.21" y="166.70" font-size="11.2" fill="#111" textLength="6.03" lengthAdjust="spacingAndGlyphs" class="b">E</text>
<text x="258.66" y="173.80" font-size="8.1" fill="#1e1e1e" textLength="22.70" lengthAdjust="spacingAndGlyphs" class="ti">BFRF3</text>
<g transform="translate(185.5 231.2) rotate(-90)"><text x="-19.77" y="0.00" font-size="8.2" fill="#111" textLength="39.16" lengthAdjust="spacing" class="lu">Light units</text></g>
<line x1="207" y1="187" x2="207" y2="276.1" stroke="#5a5a5a" stroke-width="1.8"/>
<line x1="206.1" y1="275.5" x2="333.5" y2="275.5" stroke="#1c1c1c" stroke-width="1.1"/>
<line x1="203.7" y1="190.6" x2="207" y2="190.6" stroke="#555" stroke-width="1.5"/>
<path d="M192.6 188 L193.3 187.4 M193.3 187.4 V192" fill="none" stroke="#3c3c3c" stroke-width="0.85"/>
<ellipse cx="197.25" cy="189.7" rx="1.15" ry="1.95" fill="none" stroke="#3a3a3a" stroke-width="0.75"/>
<text x="199.22" y="188.60" font-size="3.9" fill="#333" textLength="1.66" lengthAdjust="spacingAndGlyphs" class="t">8</text>
<line x1="203.7" y1="206.6" x2="207" y2="206.6" stroke="#555" stroke-width="1.5"/>
<path d="M192.6 204 L193.3 203.4 M193.3 203.4 V208" fill="none" stroke="#3c3c3c" stroke-width="0.85"/>
<ellipse cx="197.25" cy="205.7" rx="1.15" ry="1.95" fill="none" stroke="#3a3a3a" stroke-width="0.75"/>
<text x="199.19" y="204.60" font-size="3.9" fill="#333" textLength="1.71" lengthAdjust="spacingAndGlyphs" class="t">7</text>
<line x1="203.7" y1="222.6" x2="207" y2="222.6" stroke="#555" stroke-width="1.5"/>
<path d="M192.6 220 L193.3 219.4 M193.3 219.4 V224" fill="none" stroke="#3c3c3c" stroke-width="0.85"/>
<ellipse cx="197.25" cy="221.7" rx="1.15" ry="1.95" fill="none" stroke="#3a3a3a" stroke-width="0.75"/>
<text x="199.20" y="220.60" font-size="3.9" fill="#333" textLength="1.69" lengthAdjust="spacingAndGlyphs" class="t">6</text>
<line x1="203.7" y1="238.6" x2="207" y2="238.6" stroke="#555" stroke-width="1.5"/>
<path d="M192.6 236 L193.3 235.4 M193.3 235.4 V240" fill="none" stroke="#3c3c3c" stroke-width="0.85"/>
<ellipse cx="197.25" cy="237.7" rx="1.15" ry="1.95" fill="none" stroke="#3a3a3a" stroke-width="0.75"/>
<text x="199.23" y="236.60" font-size="3.9" fill="#333" textLength="1.64" lengthAdjust="spacingAndGlyphs" class="t">5</text>
<line x1="203.7" y1="254.6" x2="207" y2="254.6" stroke="#555" stroke-width="1.5"/>
<path d="M192.6 252 L193.3 251.4 M193.3 251.4 V256" fill="none" stroke="#3c3c3c" stroke-width="0.85"/>
<ellipse cx="197.25" cy="253.7" rx="1.15" ry="1.95" fill="none" stroke="#3a3a3a" stroke-width="0.75"/>
<text x="199.29" y="252.60" font-size="3.9" fill="#333" textLength="1.54" lengthAdjust="spacingAndGlyphs" class="t">4</text>
<line x1="203.7" y1="270.6" x2="207" y2="270.6" stroke="#555" stroke-width="1.5"/>
<path d="M192.6 268 L193.3 267.4 M193.3 267.4 V272" fill="none" stroke="#3c3c3c" stroke-width="0.85"/>
<ellipse cx="197.25" cy="269.7" rx="1.15" ry="1.95" fill="none" stroke="#3a3a3a" stroke-width="0.75"/>
<text x="199.24" y="268.60" font-size="3.9" fill="#333" textLength="1.64" lengthAdjust="spacingAndGlyphs" class="t">3</text>
<line x1="226.2" y1="275.5" x2="226.2" y2="278.5" stroke="#1c1c1c" stroke-width="1.0"/>
<text x="221.98" y="286.75" font-size="6.0" fill="#111" textLength="8.00" lengthAdjust="spacingAndGlyphs" class="xl">HV</text>
<line x1="255.5" y1="275.5" x2="255.5" y2="278.5" stroke="#1c1c1c" stroke-width="1.0"/>
<text x="248.72" y="286.75" font-size="6.0" fill="#111" textLength="14.23" lengthAdjust="spacingAndGlyphs" class="xl">T cell</text>
<text x="246.63" y="294.80" font-size="6.0" fill="#111" textLength="17.69" lengthAdjust="spacingAndGlyphs" class="xl">CAEBV</text>
<line x1="285.1" y1="275.5" x2="285.1" y2="278.5" stroke="#1c1c1c" stroke-width="1.0"/>
<text x="278.67" y="286.75" font-size="6.0" fill="#111" textLength="2.71" lengthAdjust="spacingAndGlyphs" class="xe">E</text>
<text x="281.55" y="286.75" font-size="6.0" fill="#111" textLength="3.64" lengthAdjust="spacingAndGlyphs" class="xe">B</text>
<text x="285.32" y="286.75" font-size="6.0" fill="#111" textLength="3.60" lengthAdjust="spacingAndGlyphs" class="xe">V</text>
<text x="276.83" y="294.80" font-size="6.0" fill="#111" textLength="16.17" lengthAdjust="spacingAndGlyphs" class="xl">donor</text>
<line x1="289.55" y1="282.85" x2="291.05" y2="282.85" stroke="#444" stroke-width="0.65"/>
<line x1="290.3" y1="282.1" x2="290.3" y2="283.6" stroke="#444" stroke-width="0.65"/>
<line x1="314.4" y1="275.5" x2="314.4" y2="278.5" stroke="#1c1c1c" stroke-width="1.0"/>
<text x="308.36" y="286.75" font-size="6.0" fill="#111" textLength="2.77" lengthAdjust="spacingAndGlyphs" class="xe">E</text>
<text x="311.68" y="286.75" font-size="6.0" fill="#111" textLength="3.39" lengthAdjust="spacingAndGlyphs" class="xe">B</text>
<text x="315.67" y="286.75" font-size="6.0" fill="#111" textLength="3.55" lengthAdjust="spacingAndGlyphs" class="xe">V</text>
<text x="306.13" y="294.80" font-size="6.0" fill="#111" textLength="16.17" lengthAdjust="spacingAndGlyphs" class="xl">donor</text>
<line x1="319.25" y1="282.85" x2="320.75" y2="282.85" stroke="#444" stroke-width="0.65"/>
<line x1="226.2" y1="226.5" x2="226.2" y2="235.1" stroke="#383838" stroke-width="1.1"/>
<line x1="223.3" y1="226.5" x2="229.1" y2="226.5" stroke="#383838" stroke-width="1.4"/>
<line x1="223.3" y1="235.1" x2="229.1" y2="235.1" stroke="#383838" stroke-width="1.4"/>
<line x1="216.6" y1="230.7" x2="235.9" y2="230.7" stroke="#5c5c5c" stroke-width="1.35"/>
<circle cx="226.2" cy="216.5" r="0.88" fill="#980b27"/>
<circle cx="228" cy="223.3" r="0.88" fill="#980b27"/>
<circle cx="224.7" cy="224.8" r="0.88" fill="#980b27"/>
<circle cx="229.4" cy="228" r="0.88" fill="#980b27"/>
<circle cx="223.7" cy="229.5" r="0.88" fill="#980b27"/>
<circle cx="225.8" cy="233.3" r="0.88" fill="#980b27"/>
<circle cx="227.5" cy="233.5" r="0.88" fill="#980b27"/>
<circle cx="224.1" cy="235.5" r="0.88" fill="#980b27"/>
<circle cx="226.2" cy="235.6" r="0.88" fill="#980b27"/>
<circle cx="229.2" cy="235.5" r="0.88" fill="#980b27"/>
<circle cx="226.2" cy="237.1" r="0.88" fill="#980b27"/>
<circle cx="226.2" cy="242.6" r="0.88" fill="#980b27"/>
<line x1="255.8" y1="221.7" x2="255.8" y2="233" stroke="#383838" stroke-width="1.1"/>
<line x1="252.9" y1="221.7" x2="258.7" y2="221.7" stroke="#383838" stroke-width="1.4"/>
<line x1="252.9" y1="233" x2="258.7" y2="233" stroke="#383838" stroke-width="1.4"/>
<line x1="246.4" y1="227.3" x2="265.3" y2="227.3" stroke="#5c5c5c" stroke-width="1.35"/>
<circle cx="253" cy="217.1" r="0.88" fill="#980b27"/>
<circle cx="258.3" cy="218.1" r="0.88" fill="#980b27"/>
<circle cx="255.6" cy="219.9" r="0.88" fill="#980b27"/>
<circle cx="254.1" cy="221.5" r="0.88" fill="#980b27"/>
<circle cx="256.7" cy="222.5" r="0.88" fill="#980b27"/>
<circle cx="255.6" cy="231.5" r="0.88" fill="#980b27"/>
<circle cx="253" cy="234.6" r="0.88" fill="#980b27"/>
<circle cx="255.6" cy="234.1" r="0.88" fill="#980b27"/>
<circle cx="257.7" cy="235.2" r="0.88" fill="#980b27"/>
<circle cx="255.6" cy="237.1" r="0.88" fill="#980b27"/>
<line x1="285" y1="225.8" x2="285" y2="238.6" stroke="#383838" stroke-width="1.1"/>
<line x1="282.1" y1="225.8" x2="287.9" y2="225.8" stroke="#383838" stroke-width="1.4"/>
<line x1="282.1" y1="238.6" x2="287.9" y2="238.6" stroke="#383838" stroke-width="1.4"/>
<line x1="275.3" y1="232.4" x2="294.6" y2="232.4" stroke="#5c5c5c" stroke-width="1.35"/>
<circle cx="284.9" cy="216.2" r="0.88" fill="#980b27"/>
<circle cx="284.9" cy="220.6" r="0.88" fill="#980b27"/>
<circle cx="284.9" cy="224.5" r="0.88" fill="#980b27"/>
<circle cx="284.1" cy="228.8" r="0.88" fill="#980b27"/>
<circle cx="287.8" cy="230.2" r="0.88" fill="#980b27"/>
<circle cx="285.8" cy="231.7" r="0.88" fill="#980b27"/>
<circle cx="284.1" cy="233.3" r="0.88" fill="#980b27"/>
<circle cx="283.8" cy="240.3" r="0.88" fill="#980b27"/>
<circle cx="287.5" cy="241.6" r="0.88" fill="#980b27"/>
<circle cx="285.8" cy="243.6" r="0.88" fill="#980b27"/>
<circle cx="283.6" cy="244.6" r="0.88" fill="#980b27"/>
<line x1="314.5" y1="241.3" x2="314.5" y2="265.2" stroke="#383838" stroke-width="1.1"/>
<line x1="311.6" y1="241.3" x2="317.4" y2="241.3" stroke="#383838" stroke-width="1.4"/>
<line x1="311.6" y1="265.2" x2="317.4" y2="265.2" stroke="#383838" stroke-width="1.4"/>
<line x1="304.9" y1="252.9" x2="324.2" y2="252.9" stroke="#5c5c5c" stroke-width="1.35"/>
<circle cx="315.6" cy="252" r="0.88" fill="#980b27"/>
<circle cx="312.8" cy="253.6" r="0.88" fill="#980b27"/>
<text x="353.45" y="166.70" font-size="11.2" fill="#111" textLength="5.25" lengthAdjust="spacingAndGlyphs" class="b">F</text>
<text x="434.45" y="173.80" font-size="8.1" fill="#1e1e1e" textLength="24.86" lengthAdjust="spacingAndGlyphs" class="ti">BMRF1</text>
<g transform="translate(360.5 231.2) rotate(-90)"><text x="-19.77" y="0.00" font-size="8.2" fill="#111" textLength="39.16" lengthAdjust="spacing" class="lu">Light units</text></g>
<line x1="382" y1="187" x2="382" y2="276.1" stroke="#5a5a5a" stroke-width="1.8"/>
<line x1="381.1" y1="275.5" x2="512.3" y2="275.5" stroke="#1c1c1c" stroke-width="1.1"/>
<line x1="378.7" y1="190.6" x2="382" y2="190.6" stroke="#555" stroke-width="1.5"/>
<path d="M367.6 188 L368.3 187.4 M368.3 187.4 V192" fill="none" stroke="#3c3c3c" stroke-width="0.85"/>
<ellipse cx="372.25" cy="189.7" rx="1.15" ry="1.95" fill="none" stroke="#3a3a3a" stroke-width="0.75"/>
<text x="374.22" y="188.60" font-size="3.9" fill="#333" textLength="1.66" lengthAdjust="spacingAndGlyphs" class="t">8</text>
<line x1="378.7" y1="206.6" x2="382" y2="206.6" stroke="#555" stroke-width="1.5"/>
<path d="M367.6 204 L368.3 203.4 M368.3 203.4 V208" fill="none" stroke="#3c3c3c" stroke-width="0.85"/>
<ellipse cx="372.25" cy="205.7" rx="1.15" ry="1.95" fill="none" stroke="#3a3a3a" stroke-width="0.75"/>
<text x="374.19" y="204.60" font-size="3.9" fill="#333" textLength="1.71" lengthAdjust="spacingAndGlyphs" class="t">7</text>
<line x1="378.7" y1="222.6" x2="382" y2="222.6" stroke="#555" stroke-width="1.5"/>
<path d="M367.6 220 L368.3 219.4 M368.3 219.4 V224" fill="none" stroke="#3c3c3c" stroke-width="0.85"/>
<ellipse cx="372.25" cy="221.7" rx="1.15" ry="1.95" fill="none" stroke="#3a3a3a" stroke-width="0.75"/>
<text x="374.20" y="220.60" font-size="3.9" fill="#333" textLength="1.69" lengthAdjust="spacingAndGlyphs" class="t">6</text>
<line x1="378.7" y1="238.6" x2="382" y2="238.6" stroke="#555" stroke-width="1.5"/>
<path d="M367.6 236 L368.3 235.4 M368.3 235.4 V240" fill="none" stroke="#3c3c3c" stroke-width="0.85"/>
<ellipse cx="372.25" cy="237.7" rx="1.15" ry="1.95" fill="none" stroke="#3a3a3a" stroke-width="0.75"/>
<text x="374.23" y="236.60" font-size="3.9" fill="#333" textLength="1.64" lengthAdjust="spacingAndGlyphs" class="t">5</text>
<line x1="378.7" y1="254.6" x2="382" y2="254.6" stroke="#555" stroke-width="1.5"/>
<path d="M367.6 252 L368.3 251.4 M368.3 251.4 V256" fill="none" stroke="#3c3c3c" stroke-width="0.85"/>
<ellipse cx="372.25" cy="253.7" rx="1.15" ry="1.95" fill="none" stroke="#3a3a3a" stroke-width="0.75"/>
<text x="374.29" y="252.60" font-size="3.9" fill="#333" textLength="1.54" lengthAdjust="spacingAndGlyphs" class="t">4</text>
<line x1="378.7" y1="270.6" x2="382" y2="270.6" stroke="#555" stroke-width="1.5"/>
<path d="M367.6 268 L368.3 267.4 M368.3 267.4 V272" fill="none" stroke="#3c3c3c" stroke-width="0.85"/>
<ellipse cx="372.25" cy="269.7" rx="1.15" ry="1.95" fill="none" stroke="#3a3a3a" stroke-width="0.75"/>
<text x="374.24" y="268.60" font-size="3.9" fill="#333" textLength="1.64" lengthAdjust="spacingAndGlyphs" class="t">3</text>
<line x1="402.6" y1="275.5" x2="402.6" y2="278.5" stroke="#1c1c1c" stroke-width="1.0"/>
<text x="398.38" y="286.75" font-size="6.0" fill="#111" textLength="8.00" lengthAdjust="spacingAndGlyphs" class="xl">HV</text>
<line x1="432.6" y1="275.5" x2="432.6" y2="278.5" stroke="#1c1c1c" stroke-width="1.0"/>
<text x="425.82" y="286.75" font-size="6.0" fill="#111" textLength="14.23" lengthAdjust="spacingAndGlyphs" class="xl">T cell</text>
<text x="423.73" y="294.80" font-size="6.0" fill="#111" textLength="17.69" lengthAdjust="spacingAndGlyphs" class="xl">CAEBV</text>
<line x1="462.2" y1="275.5" x2="462.2" y2="278.5" stroke="#1c1c1c" stroke-width="1.0"/>
<text x="455.77" y="286.75" font-size="6.0" fill="#111" textLength="2.71" lengthAdjust="spacingAndGlyphs" class="xe">E</text>
<text x="458.65" y="286.75" font-size="6.0" fill="#111" textLength="3.64" lengthAdjust="spacingAndGlyphs" class="xe">B</text>
<text x="462.42" y="286.75" font-size="6.0" fill="#111" textLength="3.60" lengthAdjust="spacingAndGlyphs" class="xe">V</text>
<text x="453.93" y="294.80" font-size="6.0" fill="#111" textLength="16.17" lengthAdjust="spacingAndGlyphs" class="xl">donor</text>
<line x1="466.65" y1="282.85" x2="468.15" y2="282.85" stroke="#444" stroke-width="0.65"/>
<line x1="467.4" y1="282.1" x2="467.4" y2="283.6" stroke="#444" stroke-width="0.65"/>
<line x1="492.1" y1="275.5" x2="492.1" y2="278.5" stroke="#1c1c1c" stroke-width="1.0"/>
<text x="486.06" y="286.75" font-size="6.0" fill="#111" textLength="2.77" lengthAdjust="spacingAndGlyphs" class="xe">E</text>
<text x="489.38" y="286.75" font-size="6.0" fill="#111" textLength="3.39" lengthAdjust="spacingAndGlyphs" class="xe">B</text>
<text x="493.37" y="286.75" font-size="6.0" fill="#111" textLength="3.55" lengthAdjust="spacingAndGlyphs" class="xe">V</text>
<text x="483.83" y="294.80" font-size="6.0" fill="#111" textLength="16.17" lengthAdjust="spacingAndGlyphs" class="xl">donor</text>
<line x1="496.95" y1="282.85" x2="498.45" y2="282.85" stroke="#444" stroke-width="0.65"/>
<line x1="401.8" y1="235.3" x2="401.8" y2="245.5" stroke="#383838" stroke-width="1.1"/>
<line x1="398.9" y1="235.3" x2="404.7" y2="235.3" stroke="#383838" stroke-width="1.4"/>
<line x1="398.9" y1="245.5" x2="404.7" y2="245.5" stroke="#383838" stroke-width="1.4"/>
<line x1="392" y1="240.5" x2="411.7" y2="240.5" stroke="#5c5c5c" stroke-width="1.35"/>
<circle cx="401.8" cy="218.2" r="0.88" fill="#980b27"/>
<circle cx="401.8" cy="229.5" r="0.88" fill="#980b27"/>
<circle cx="399.5" cy="240.9" r="0.88" fill="#980b27"/>
<circle cx="405.1" cy="240.9" r="0.88" fill="#980b27"/>
<circle cx="402.1" cy="242.2" r="0.88" fill="#980b27"/>
<circle cx="394" cy="243.6" r="0.88" fill="#980b27"/>
<circle cx="396.6" cy="244.9" r="0.88" fill="#980b27"/>
<circle cx="399.9" cy="245.3" r="0.88" fill="#980b27"/>
<circle cx="403.8" cy="245.5" r="0.88" fill="#980b27"/>
<circle cx="405.5" cy="245.3" r="0.88" fill="#980b27"/>
<circle cx="407.8" cy="244.9" r="0.88" fill="#980b27"/>
<circle cx="410.4" cy="243.6" r="0.88" fill="#980b27"/>
<line x1="432.1" y1="220.5" x2="432.1" y2="233.7" stroke="#383838" stroke-width="1.1"/>
<line x1="429.2" y1="220.5" x2="435" y2="220.5" stroke="#383838" stroke-width="1.4"/>
<line x1="429.2" y1="233.7" x2="435" y2="233.7" stroke="#383838" stroke-width="1.4"/>
<line x1="422.4" y1="227.1" x2="441.7" y2="227.1" stroke="#5c5c5c" stroke-width="1.35"/>
<circle cx="432.5" cy="218.6" r="0.88" fill="#980b27"/>
<circle cx="428.2" cy="219.9" r="0.88" fill="#980b27"/>
<circle cx="436.1" cy="219.9" r="0.88" fill="#980b27"/>
<circle cx="430.8" cy="220.5" r="0.88" fill="#980b27"/>
<circle cx="433.8" cy="221.2" r="0.88" fill="#980b27"/>
<circle cx="432.5" cy="225.5" r="0.88" fill="#980b27"/>
<circle cx="431.2" cy="231.7" r="0.88" fill="#980b27"/>
<circle cx="433.8" cy="233" r="0.88" fill="#980b27"/>
<circle cx="433.8" cy="239.6" r="0.88" fill="#980b27"/>
<circle cx="430.8" cy="241.8" r="0.88" fill="#980b27"/>
<line x1="462.5" y1="233.4" x2="462.5" y2="242.7" stroke="#383838" stroke-width="1.1"/>
<line x1="459.6" y1="233.4" x2="465.4" y2="233.4" stroke="#383838" stroke-width="1.4"/>
<line x1="459.6" y1="242.7" x2="465.4" y2="242.7" stroke="#383838" stroke-width="1.4"/>
<line x1="452.9" y1="238.2" x2="472" y2="238.2" stroke="#5c5c5c" stroke-width="1.35"/>
<circle cx="462.5" cy="223.3" r="0.88" fill="#980b27"/>
<circle cx="460" cy="230.8" r="0.88" fill="#980b27"/>
<circle cx="464.9" cy="233" r="0.88" fill="#980b27"/>
<circle cx="464.9" cy="239" r="0.88" fill="#980b27"/>
<circle cx="460" cy="240.7" r="0.88" fill="#980b27"/>
<circle cx="462.7" cy="242" r="0.88" fill="#980b27"/>
<circle cx="458.2" cy="243.5" r="0.88" fill="#980b27"/>
<circle cx="466.4" cy="243.1" r="0.88" fill="#980b27"/>
<circle cx="461.1" cy="245.4" r="0.88" fill="#980b27"/>
<circle cx="463.8" cy="244.6" r="0.88" fill="#980b27"/>
<line x1="492.4" y1="241.5" x2="492.4" y2="252.3" stroke="#383838" stroke-width="1.1"/>
<line x1="489.5" y1="241.5" x2="495.3" y2="241.5" stroke="#383838" stroke-width="1.4"/>
<line x1="489.5" y1="252.3" x2="495.3" y2="252.3" stroke="#383838" stroke-width="1.4"/>
<line x1="483" y1="246.8" x2="502" y2="246.8" stroke="#5c5c5c" stroke-width="1.35"/>
<circle cx="491.4" cy="247.3" r="0.88" fill="#980b27"/>
<circle cx="494.1" cy="246.4" r="0.88" fill="#980b27"/>
<path d="M400.3 191.7 V187 H430.1 V191.7" fill="none" stroke="#383838" stroke-width="1.1"/>
<path d="M433.5 191.7 V187 H463.0 V191.7" fill="none" stroke="#383838" stroke-width="1.1"/>
<text x="406.20" y="183.70" font-size="5.9" fill="#333" textLength="17.92" lengthAdjust="spacingAndGlyphs" class="pv" font-style="italic">P = .002</text>
<text x="438.10" y="183.90" font-size="5.9" fill="#333" textLength="20.82" lengthAdjust="spacingAndGlyphs" class="pv" font-style="italic">P = .0062</text>
<rect x="0" y="0" width="1" height="304" fill="#4a4a4a"/>
<rect x="1" y="0" width="1" height="304" fill="#8a8a8a"/>
<rect x="519" y="0" width="1" height="304" fill="#4a4a4a"/>
<rect x="518" y="0" width="1" height="304" fill="#999"/>
<rect x="0" y="0" width="520" height="1" fill="#000"/>
<rect x="0" y="303" width="520" height="1" fill="#000"/>
</svg></body></html>
